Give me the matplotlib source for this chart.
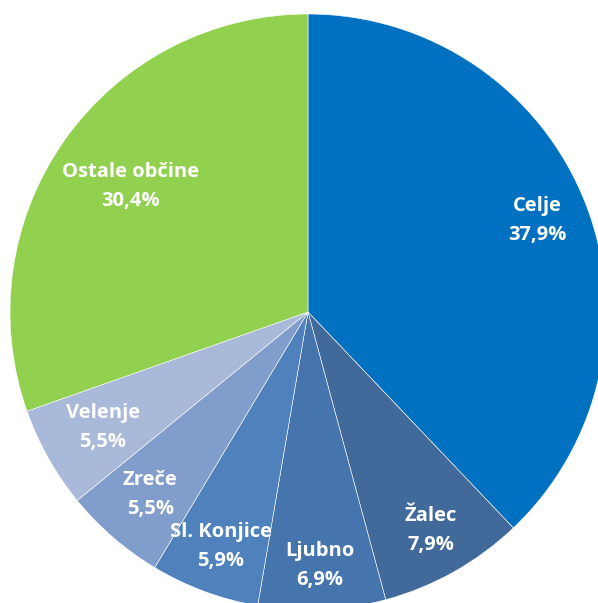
import numpy as np
import matplotlib
matplotlib.use("Agg")
import matplotlib.pyplot as plt

categories = ["Celje", "Žalec", "Ljubno", "Sl. Konjice", "Zreče", "Velenje", "Ostale občine"]
values = [37.9, 7.9, 6.9, 5.9, 5.5, 5.5, 30.4]
pct_labels = ["37,9%", "7,9%", "6,9%", "5,9%", "5,5%", "5,5%", "30,4%"]

colors = ["#0070C0", "#41699A", "#4674AC", "#4F81BD", "#819DCB", "#A9B9D9", "#92D050"]
label_radii = [0.83, 0.84, 0.85, 0.84, 0.81, 0.79, 0.73]

W, H = 598, 603
fig = plt.figure(figsize=(W / 100, H / 100), dpi=100)
ax = fig.add_axes([0, 0, 1, 1])
cx, cy, R = 308, 312, 298

wedges, _ = ax.pie(values, colors=colors, startangle=90, counterclock=False,
                   radius=1, center=(0, 0), labeldistance=None,
                   wedgeprops=dict(edgecolor="white", linewidth=0.4))

for w, cat, pct, r in zip(wedges, categories, pct_labels, label_radii):
    ang = np.deg2rad((w.theta1 + w.theta2) / 2)
    ax.text(r * np.cos(ang), r * np.sin(ang), f"{cat}\n{pct}", ha="center", va="center",
            color="white", fontsize=14.5, fontweight="bold", family="Open Sans", linespacing=1.6)

ax.set_xlim(-cx / R, (W - cx) / R)
ax.set_ylim((cy - H) / R, cy / R)
ax.set_aspect("auto")
ax.axis("off")
fig.savefig("out.png", dpi=100)
